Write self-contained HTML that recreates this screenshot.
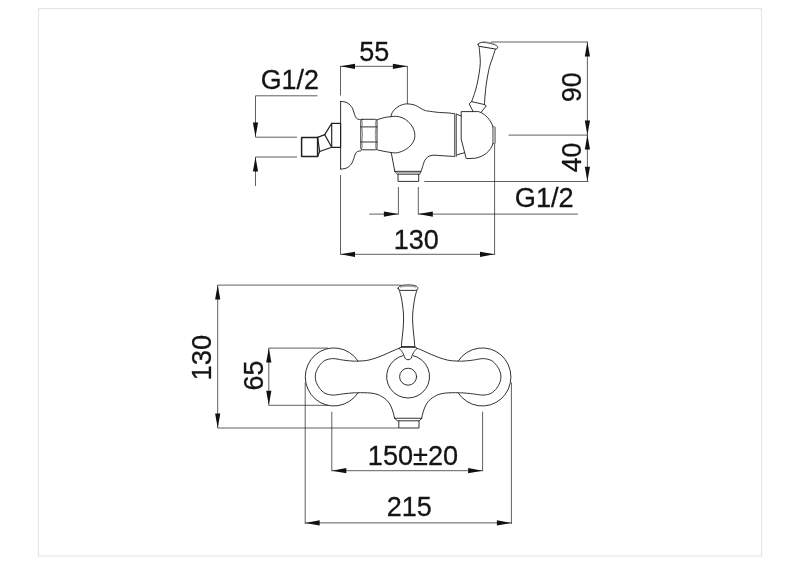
<!DOCTYPE html>
<html><head><meta charset="utf-8">
<style>
html,body{margin:0;padding:0;background:#fff;}
body{width:800px;height:565px;overflow:hidden;position:relative;font-family:"Liberation Sans",sans-serif;}
svg{position:absolute;left:0;top:0;display:block;will-change:transform}
text{font-family:"Liberation Sans",sans-serif;font-size:27px;fill:#141414;stroke:#141414;stroke-width:.3px}
.d{stroke:#2a2a2a;stroke-width:.75;fill:none}
.o{stroke:#202020;stroke-width:.92;fill:none;stroke-linejoin:round;stroke-linecap:round}
.a{fill:#111;stroke:none}
</style></head><body>
<svg width="800" height="565" viewBox="0 0 800 565">
<rect x="0" y="0" width="800" height="565" fill="#fff"/>
<rect x="38.5" y="8.5" width="723" height="547.5" fill="none" stroke="#e4e4e4" stroke-width="1.1"/>
<g class="d">
<path d="M340.5 66V95.5M340.5 175V254.5M407.4 66V104M340.5 66.3H407.4"/>
<path d="M317.5 95.8H255.5V137M255.5 137.2H297M255.5 157H297M255.5 157V186"/>
<path d="M491 42H588M587.4 42V181.3M508.5 135.1H588M424.3 181.5H588.5"/>
<path d="M369.3 214.1H398.4M418.3 214.1H578M398.4 187V214.6M418.3 187V214.6"/>
<path d="M340.5 254.3H494.5M494.6 143.5V255"/>
<path d="M217.7 285.1V428M217.7 285.1H401M217.7 428H398.8"/>
<path d="M268.8 348.1V405.3M268.8 348.1H328M268.8 405.3H328"/>
<path d="M331.8 411.7V471.2M482.6 411.7V471.2M331.8 470.7H482.6"/>
<path d="M305.2 382.5V524M511.4 382.5V524M305.2 522.9H511.4"/>
</g>
<g class="a">
<path d="M340.5 66.3l14.5 -2.6v5.2z"/>
<path d="M407.4 66.3l-14.5 -2.6v5.2z"/>
<path d="M255.5 137l-2.6 -14.5h5.2z"/>
<path d="M255.5 157l-2.6 14.5h5.2z"/>
<path d="M587.4 42l-2.6 14.5h5.2z"/>
<path d="M587.4 135.1l-2.6 -14.5h5.2z"/>
<path d="M587.4 135.1l-2.6 14.5h5.2z"/>
<path d="M587.4 181.3l-2.6 -14.5h5.2z"/>
<path d="M398.4 214.1l-14.5 -2.6v5.2z"/>
<path d="M418.3 214.1l14.5 -2.6v5.2z"/>
<path d="M340.5 254.3l14.5 -2.6v5.2z"/>
<path d="M494.5 254.3l-14.5 -2.6v5.2z"/>
<path d="M217.7 285.1l-2.6 14.5h5.2z"/>
<path d="M217.7 428l-2.6 -14.5h5.2z"/>
<path d="M268.8 348.1l-2.6 14.5h5.2z"/>
<path d="M268.8 405.3l-2.6 -14.5h5.2z"/>
<path d="M331.8 470.7l14.5 -2.6v5.2z"/>
<path d="M482.6 470.7l-14.5 -2.6v5.2z"/>
<path d="M305.2 522.9l14.5 -2.6v5.2z"/>
<path d="M511.4 522.9l-14.5 -2.6v5.2z"/>
</g>
<g class="o">
<path d="M340.6 101.5V169"/>
<path d="M340.6 101.5C341.33 101.57 343.6 101.48 345 101.9C346.4 102.32 347.83 103.07 349 104C350.17 104.93 351.2 106.17 352 107.5C352.8 108.83 353.25 110.5 353.8 112C354.35 113.5 354.68 115.33 355.3 116.5C355.92 117.67 356.55 118.47 357.5 119C358.45 119.53 360.42 119.58 361 119.7"/>
<path d="M340.6 169C341.33 168.93 343.6 169.02 345 168.6C346.4 168.18 347.83 167.43 349 166.5C350.17 165.57 351.2 164.33 352 163C352.8 161.67 353.25 160 353.8 158.5C354.35 157 354.68 155.17 355.3 154C355.92 152.83 356.55 152.03 357.5 151.5C358.45 150.97 360.42 150.92 361 150.8"/>
<path d="M362.3 119.3H375.5Q377 119.3 377 121.2V148Q377 149.8 375.5 149.8H362.3Q360.8 149.8 360.8 148V121.2Q360.8 119.3 362.3 119.3ZM360.8 126.9H377M360.8 142H377"/>
<path d="M377 119.8C378.2 119.43 381.9 118.12 384.2 117.6C386.5 117.08 388.73 116.92 390.8 116.7C392.87 116.48 394.6 116.08 396.6 116.3C398.6 116.52 400.88 117.13 402.8 118C404.72 118.87 406.48 120.02 408.1 121.5C409.72 122.98 411.43 125.12 412.5 126.9C413.57 128.68 414.12 130.77 414.5 132.2C414.88 133.63 414.83 134.28 414.8 135.5C414.77 136.72 414.9 137.93 414.3 139.5C413.7 141.07 412.7 143.2 411.2 144.9C409.7 146.6 407.58 148.4 405.3 149.7C403.02 151 399.85 152.23 397.5 152.7C395.15 153.17 393.45 152.73 391.2 152.5C388.95 152.27 386.37 151.75 384 151.3C381.63 150.85 378.17 150.05 377 149.8"/>
<path d="M390.8 116.7C391.03 116.03 391.53 113.95 392.2 112.7C392.87 111.45 393.63 110.32 394.8 109.2C395.97 108.08 397.72 106.82 399.2 106C400.68 105.18 402.32 104.65 403.7 104.3C405.08 103.95 405.93 103.85 407.5 103.9C409.07 103.95 411.43 104.18 413.1 104.6C414.77 105.02 416.03 105.67 417.5 106.4C418.97 107.13 420.58 108.3 421.9 109C423.22 109.7 423.95 110.2 425.4 110.6C426.85 111 428.27 111.08 430.6 111.4C432.93 111.72 436.48 112.25 439.4 112.5C442.32 112.75 445.6 112.68 448.1 112.9C450.6 113.12 453.35 113.65 454.4 113.8"/>
<path d="M454.5 113.8V156.5M456.3 114V156.3"/>
<path d="M456.4 114.2L461.2 116M456.4 155L464.4 152.8"/>
<path d="M454.4 156.5C453.17 156.42 449.4 156.15 447 156C444.6 155.85 442 155.73 440 155.6C438 155.47 436.5 155.2 435 155.2C433.5 155.2 432.22 155.3 431 155.6C429.78 155.9 428.73 156.2 427.7 157C426.67 157.8 425.53 159.18 424.8 160.4C424.07 161.62 423.78 162.87 423.3 164.3C422.82 165.73 422.3 167.82 421.9 169C421.5 170.18 421.07 170.96 420.9 171.35"/>
<path d="M391.2 152.5L394.8 171.35"/>
<path d="M394.8 171.35H420.9M394.8 171.35L397.3 174.2H419.7L420.9 171.35M398 174.2V181.4H418.7V174.2"/>
<path d="M461.2 138.8V111.6H478.5C485 113.5 491 120 493 127V143.5C491 150.5 484 157 474.5 158.3L466.6 158.6Z"/>
<path d="M493 127H495V143.5H493"/>
<g transform="translate(487.9 45.85) rotate(9.5)"><path d="M-9.9 0C-9.9 -1.9 -6 -2.9 0 -2.9C6 -2.9 9.9 -1.9 9.9 0C9.9 1.3 9 1.9 8 1.9H-8C-9 1.9 -9.9 1.3 -9.9 0Z"/><path d="M-7.5 -2.6C-4 -4.1 3 -4.1 6.5 -2.7" style="stroke-width:.9;stroke:#999"/></g>
<path d="M479.1 46.4C479.22 47.67 479.6 51.18 479.8 54C480 56.82 480.43 59.97 480.3 63.3C480.17 66.63 479.55 70.45 479 74C478.45 77.55 477.75 81.35 477 84.6C476.25 87.85 475.4 90.67 474.5 93.5C473.6 96.33 472.08 100.25 471.6 101.6"/>
<path d="M495.3 49.4C494.83 50.83 493.43 55.2 492.5 58C491.57 60.8 490.48 63.37 489.7 66.2C488.92 69.03 488.38 71.93 487.8 75C487.22 78.07 486.63 81.43 486.2 84.6C485.77 87.77 485.5 90.7 485.2 94C484.9 97.3 484.53 102.67 484.4 104.4"/>
<path d="M471.6 101.6L484.6 104.6"/>
<path d="M471.6 101.6L469.2 104L473.2 111.6"/>
<path d="M484.6 104.6L486.3 105.8L481.2 112.2"/>
<path d="M358 361.0A28.7 29.1 0 1 0 358 392.9"/>
<path d="M458.2 361.0A28.7 29.1 0 1 1 458.2 392.9"/>
<path d="M399.3 348.2C398.25 348.63 395.38 349.77 393 350.8C390.62 351.83 387.67 353.27 385 354.4C382.33 355.53 379.67 356.67 377 357.6C374.33 358.53 371.22 359.47 369 360C366.78 360.53 365.53 360.62 363.7 360.8C361.87 360.98 359.78 361.05 358 361.1C356.22 361.15 355.37 361.25 353 361.1C350.63 360.95 346.3 360.52 343.8 360.2C341.3 359.88 339.88 359.47 338 359.2C336.12 358.93 334.67 358.4 332.5 358.6C330.33 358.8 327.17 359.25 325 360.4C322.83 361.55 320.97 363.65 319.5 365.5C318.03 367.35 316.9 369.61 316.2 371.5C315.5 373.39 315.3 375.07 315.3 376.85C315.3 378.63 315.5 380.31 316.2 382.2C316.9 384.09 318.03 386.35 319.5 388.2C320.97 390.05 322.83 392.15 325 393.3C327.17 394.45 330.33 394.88 332.5 395.1C334.67 395.32 336.12 394.82 338 394.6C339.88 394.38 341.3 394.08 343.8 393.8C346.3 393.52 350.63 393.07 353 392.9C355.37 392.73 356.22 392.83 358 392.8C359.78 392.77 361.53 392.65 363.7 392.7C365.87 392.75 368.78 392.83 371 393.1C373.22 393.37 375.22 393.73 377 394.3C378.78 394.87 380.2 395.63 381.7 396.5C383.2 397.37 384.66 398.25 386 399.5C387.34 400.75 388.68 402.25 389.75 404C390.82 405.75 391.71 408.12 392.4 410C393.09 411.88 393.53 413.88 393.9 415.25C394.27 416.62 394.48 417.75 394.6 418.25"/>
<path d="M416.9 348.2C417.95 348.63 420.82 349.77 423.2 350.8C425.58 351.83 428.53 353.27 431.2 354.4C433.87 355.53 436.53 356.67 439.2 357.6C441.87 358.53 444.98 359.47 447.2 360C449.42 360.53 450.67 360.62 452.5 360.8C454.33 360.98 456.42 361.05 458.2 361.1C459.98 361.15 460.83 361.25 463.2 361.1C465.57 360.95 469.9 360.52 472.4 360.2C474.9 359.88 476.32 359.47 478.2 359.2C480.08 358.93 481.53 358.4 483.7 358.6C485.87 358.8 489.03 359.25 491.2 360.4C493.37 361.55 495.23 363.65 496.7 365.5C498.17 367.35 499.3 369.61 500 371.5C500.7 373.39 500.9 375.07 500.9 376.85C500.9 378.63 500.7 380.31 500 382.2C499.3 384.09 498.17 386.35 496.7 388.2C495.23 390.05 493.37 392.15 491.2 393.3C489.03 394.45 485.87 394.88 483.7 395.1C481.53 395.32 480.08 394.82 478.2 394.6C476.32 394.38 474.9 394.08 472.4 393.8C469.9 393.52 465.57 393.07 463.2 392.9C460.83 392.73 459.98 392.83 458.2 392.8C456.42 392.77 454.67 392.65 452.5 392.7C450.33 392.75 447.42 392.83 445.2 393.1C442.98 393.37 440.98 393.73 439.2 394.3C437.42 394.87 436 395.63 434.5 396.5C433 397.37 431.54 398.25 430.2 399.5C428.86 400.75 427.52 402.25 426.45 404C425.38 405.75 424.49 408.12 423.8 410C423.11 411.88 422.67 413.88 422.3 415.25C421.93 416.62 421.72 417.75 421.6 418.25"/>
<path d="M394.6 418.25H421.8M394.6 418.25L397.4 420.8H419.4L421.8 418.25M398.8 420.8V428H419V420.8"/>
<path d="M403 355.6A21.5 21.5 0 1 0 413.2 355.6"/>
<circle cx="408.1" cy="376.7" r="8.5"/>
<path d="M398.1 288.3C398.1 286 402 284.9 408 284.9C414 284.9 417.9 286 417.9 288.3C417.9 289.6 416.5 290.4 415 290.4H401C399.5 290.4 398.1 289.6 398.1 288.3Z"/>
<path d="M399.3 290.4C399.62 291.5 400.67 294.57 401.2 297C401.73 299.43 402.12 302.17 402.5 305C402.88 307.83 403.33 311.17 403.5 314C403.67 316.83 403.62 319 403.5 322C403.38 325 403.07 329 402.8 332C402.53 335 402.13 337.53 401.9 340C401.67 342.47 401.48 345.67 401.4 346.8"/>
<path d="M416.9 290.4C416.58 291.5 415.53 294.57 415 297C414.47 299.43 414.08 302.17 413.7 305C413.32 307.83 412.87 311.17 412.7 314C412.53 316.83 412.58 319 412.7 322C412.82 325 413.13 329 413.4 332C413.67 335 414.07 337.53 414.3 340C414.53 342.47 414.72 345.67 414.8 346.8"/>
<path d="M401.4 346.6H414.8M401.4 347.3H414.8"/>
<path d="M401.4 347L399.1 348.3"/>
<path d="M399.1 348.3C399.42 348.65 400.42 349.7 401 350.4C401.58 351.1 402.1 351.65 402.6 352.5C403.1 353.35 403.62 354.58 404 355.5C404.38 356.42 404.52 357.37 404.9 358C405.28 358.63 405.75 359.03 406.3 359.3C406.85 359.57 407.88 359.55 408.2 359.6"/>
<path d="M414.8 347L417.1 348.3"/>
<path d="M417.1 348.3C416.78 348.65 415.78 349.7 415.2 350.4C414.62 351.1 414.1 351.65 413.6 352.5C413.1 353.35 412.58 354.58 412.2 355.5C411.82 356.42 411.68 357.37 411.3 358C410.92 358.63 410.45 359.03 409.9 359.3C409.35 359.57 408.32 359.55 408 359.6"/>
</g>
<g class="o" style="stroke-width:1.15">
<path d="M317.6 137.4L324.7 134.6L331.7 147.3L319.7 151.5L317.6 156.4"/>
<path d="M317.6 137.4L319.7 151.5"/>
<path d="M324.7 134.6L331.7 123.4"/>
<path d="M331.7 123.4H340.6V147.3H331.7Z"/>
</g>
<g class="o" style="stroke-width:1.5">
<path d="M301.6 137.4H317.6V156.4H301.6Z"/>
</g>
<g class="o" style="stroke-width:.6;stroke:#444">
<path d="M375.9 120.5Q375 123.5 375.9 126.9Q374.6 134.5 375.9 142Q375 145.5 375.9 149M361.9 120.5Q362.8 123.5 361.9 126.9Q363.2 134.5 361.9 142Q362.8 145.5 361.9 149"/>
<path d="M400.5 287C403.5 285.9 412.5 285.9 415.5 287"/>
</g>
<g fill="#aaa">
<path d="M454.5 113.8H456.3V156.4H454.5Z"/>
<path d="M493 127H495V143.5H493Z"/>
<path d="M395.5 171.9H420.3L419.5 173.7H397.2Z"/>
</g>
<g>
<text transform="translate(359.15 60.87)">55</text>
<text transform="translate(260.70 89.00) scale(0.993 1)">G1/2</text>
<text transform="translate(514.80 207.30) scale(1.007 1)">G1/2</text>
<text transform="translate(393.70 248.55)">130</text>
<text transform="translate(580.80 102.05) rotate(-90) scale(0.989 1)">90</text>
<text transform="translate(580.80 172.25) rotate(-90) scale(0.989 1)">40</text>
<text transform="translate(211.20 380.50) rotate(-90) scale(1.019 1)">130</text>
<text transform="translate(263.05 390.55) rotate(-90)">65</text>
<text transform="translate(367.80 464.60) scale(1.005 1)">150±20</text>
<text transform="translate(386.78 516.40)">215</text>
</g>
</svg>
</body></html>
